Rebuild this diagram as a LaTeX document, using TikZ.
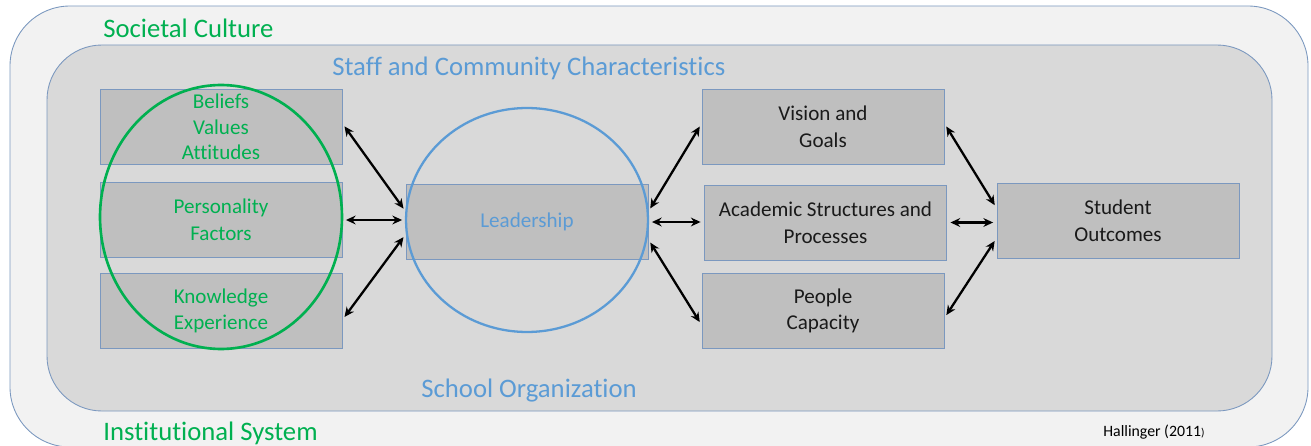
\documentclass[tikz,border=0pt]{standalone}
\usepackage{fontspec}
\setmainfont[Ligatures=NoCommon]{Carlito}
\usetikzlibrary{arrows.meta}

\definecolor{outerbg}{HTML}{F2F2F2}
\definecolor{innerbg}{HTML}{D9D9D9}
\definecolor{boxbg}{HTML}{BFBFBF}
\definecolor{frame}{HTML}{7B98BF}
\definecolor{culturegreen}{HTML}{00B050}
\definecolor{leadblue}{HTML}{5B9BD5}
\definecolor{boxtext}{HTML}{1A1A1A}

\tikzset{
  box/.style={draw=frame, fill=boxbg, line width=0.5pt, minimum width=4.84cm,
    minimum height=1.5cm, inner sep=0pt, align=center, text=boxtext,
    font=\fontsize{12}{14.4}\selectfont},
  arr/.style={{Stealth[length=5.5pt,width=5pt]}-{Stealth[length=5.5pt,width=5pt]},
    line width=1.3pt, shorten <=2pt, shorten >=2pt},
  layer/.style={anchor=west, inner sep=0pt, font=\fontsize{15.2}{17}\selectfont}
}

\begin{document}
\begin{tikzpicture}[x=0.02cm, y=-0.02cm]
  \useasboundingbox (0,0) rectangle (1311,446);

  % nested contexts
  \draw[frame, line width=0.5pt, fill=outerbg, rounded corners=1.2cm] (10,6) rectangle (1308,447);
  \draw[frame, line width=0.5pt, fill=innerbg, rounded corners=1.1cm] (47,45) rectangle (1272,411);

  \node[layer, text=culturegreen] (societal) at (103,28) {Societal Culture};
  \node[layer, text=culturegreen] (institutional) at (103,433) {Institutional System};
  \node[layer, text=leadblue] (staff) at (332,68) {Staff and Community Characteristics};
  \node[layer, text=leadblue] (school) at (421,391) {School Organization};
  \node[anchor=west, inner sep=0pt, font=\fontsize{9}{11}\selectfont] (source) at (1103,432) {Hallinger (2011{\fontsize{6.5}{7}\selectfont)}};

  % leader characteristics
  \node[box, text=culturegreen] (beliefs) at (221,127) {Beliefs\\Values\\Attitudes};
  \node[box, text=culturegreen, font=\fontsize{12}{15.2}\selectfont] (personality) at (221,220) {Personality\\Factors};
  \node[box, text=culturegreen, font=\fontsize{12}{15.2}\selectfont] (knowledge) at (221,311) {Knowledge\\Experience};

  % leadership and its paths
  \node[box, text=leadblue] (lead) at (527,222) {Leadership};
  \node[box, font=\fontsize{12}{15.2}\selectfont] (vision) at (823,127) {Vision and\\Goals};
  \node[box, font=\fontsize{12}{15.2}\selectfont] (academic) at (825.5,222.5) {Academic Structures and\\Processes};
  \node[box, font=\fontsize{12}{15.2}\selectfont] (people) at (823,311) {People\\Capacity};
  \node[box, font=\fontsize{12}{15.2}\selectfont] (student) at (1118,220.5) {Student\\Outcomes};

  \draw[culturegreen, line width=1.5pt] (221,217) ellipse [x radius=2.42cm, y radius=2.64cm];
  \draw[leadblue, line width=1.3pt] (527,220) ellipse [x radius=2.42cm, y radius=2.24cm];

  \draw[arr] ([yshift=2pt]beliefs.east) -- ([yshift=6pt]lead.west);
  \draw[arr] (personality.east) -- (personality.east -| lead.west);
  \draw[arr] ([yshift=-5pt]knowledge.east) -- ([yshift=-7pt]lead.west);
  \draw[arr] ([yshift=6pt]lead.east) -- ([yshift=2pt]vision.west);
  \draw[arr] (lead.east) -- (lead.east -| academic.west);
  \draw[arr] ([yshift=-10pt]lead.east) -- ([yshift=-8pt]people.west);
  \draw[arr] ([yshift=2pt]vision.east) -- ([yshift=7pt]student.west);
  \draw[arr] (academic.east) -- (academic.east -| student.west);
  \draw[arr] ([yshift=-4pt]people.east) -- ([yshift=-10pt]student.west);
\end{tikzpicture}
\end{document}
